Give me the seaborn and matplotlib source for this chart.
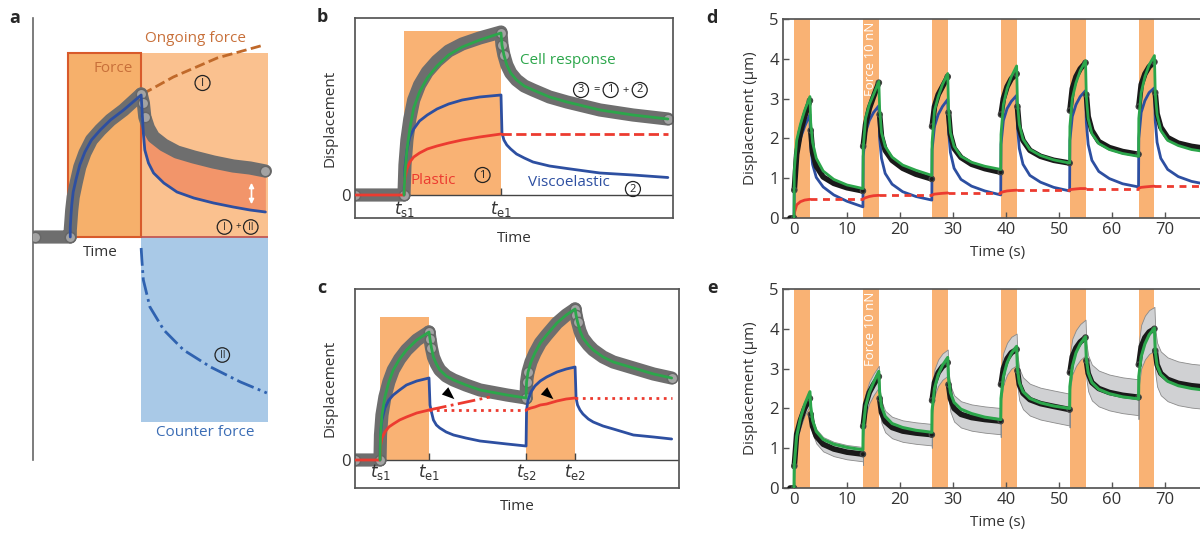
import numpy as np
import pandas as pd
import matplotlib
matplotlib.use("Agg")
import matplotlib.pyplot as plt
import seaborn as sns
from matplotlib.patches import Rectangle

sns.set_theme(style="white")
plt.rcParams["font.family"] = ["Open Sans", "DejaVu Sans"]
plt.rcParams["axes.edgecolor"] = "#555555"

GREEN = "#2ca64b"
BLUE = "#2d4fa1"
RED = "#ec3b30"
ORANGE = "#f9b274"
TXT = "#333333"

# ---------- panel a (schematic, arbitrary units) ----------
a_base_x = [-0.45, 0.03]
a_rise_x = [0.03, 0.03, 0.04, 0.05, 0.07, 0.11, 0.16, 0.23, 0.32, 0.44, 0.58, 0.76, 1.0]
a_data_rise = [0, 0.07, 0.17, 0.27, 0.40, 0.54, 0.70, 0.84, 0.97, 1.07, 1.17, 1.27, 1.43]
a_blue_rise = [0, 0.10, 0.22, 0.32, 0.45, 0.58, 0.72, 0.85, 0.97, 1.07, 1.17, 1.27, 1.42]
a_decay_x = [1.0, 1.03, 1.05, 1.10, 1.17, 1.31, 1.49, 1.72, 1.99, 2.26, 2.49, 2.70]
a_data_decay = [1.43, 1.34, 1.20, 1.09, 1.00, 0.92, 0.85, 0.80, 0.75, 0.71, 0.69, 0.66]
a_blue_decay = [1.42, 1.04, 0.87, 0.74, 0.64, 0.54, 0.45, 0.39, 0.34, 0.30, 0.27, 0.25]
a_ongoing_x = [1.02, 1.44, 2.04, 2.68]
a_ongoing_y = [1.43, 1.60, 1.79, 1.92]
a_counter_x = [1.0, 1.01, 1.03, 1.12, 1.31, 1.58, 1.95, 2.36, 2.72]
a_counter_y = [-0.11, -0.23, -0.43, -0.70, -0.93, -1.13, -1.30, -1.45, -1.56]

# ---------- panel b ----------
b_pre_x = [-0.5, 0.0]
b_rise_x = [0, 0.01, 0.03, 0.06, 0.1, 0.16, 0.24, 0.34, 0.46, 0.6, 0.78, 1.0]
b_green_rise = [0, 0.22, 0.45, 0.66, 0.87, 1.03, 1.17, 1.29, 1.40, 1.48, 1.55, 1.62]
b_data_rise = [0, 0.30, 0.55, 0.76, 0.95, 1.10, 1.23, 1.34, 1.44, 1.51, 1.57, 1.63]
b_blue_rise = [0, 0.28, 0.45, 0.58, 0.66, 0.74, 0.80, 0.86, 0.91, 0.95, 0.98, 1.0]
b_red_rise = [0, 0.17, 0.26, 0.33, 0.38, 0.42, 0.46, 0.49, 0.52, 0.55, 0.58, 0.61]
b_decay_x = [1.0, 1.01, 1.03, 1.06, 1.1, 1.16, 1.24, 1.33, 1.5, 1.68, 2.02, 2.36, 2.72]
b_green_decay = [1.62, 1.50, 1.40, 1.30, 1.22, 1.15, 1.09, 1.05, 0.98, 0.93, 0.85, 0.80, 0.76]
b_blue_decay = [1.0, 0.62, 0.55, 0.50, 0.46, 0.41, 0.37, 0.33, 0.29, 0.265, 0.22, 0.20, 0.175]
b_red_level = 0.61
b_ticks = [0, 1]
b_tick_labels = [r"$t_{\rm s1}$", r"$t_{\rm e1}$"]

# ---------- panel c ----------
c_rise1_x = [0, 0.01, 0.04, 0.1, 0.18, 0.27, 0.4, 0.54, 0.75, 1.0]
c_decay1_x = [1.0, 1.02, 1.05, 1.09, 1.15, 1.22, 1.35, 1.5, 1.75, 2.04, 2.59, 2.98]
c_rise2_x = [2.98, 2.99, 3.02, 3.08, 3.16, 3.27, 3.4, 3.61, 3.8, 3.98]
c_decay2_x = [3.98, 4.0, 4.03, 4.08, 4.14, 4.25, 4.35, 4.55, 4.76, 5.17, 5.58, 5.95]
c_green = [[0, 0.25, 0.45, 0.63, 0.78, 0.90, 1.01, 1.10, 1.20, 1.28],
           [1.28, 1.21, 1.12, 1.03, 0.96, 0.90, 0.84, 0.80, 0.75, 0.70, 0.65, 0.62],
           [0.62, 0.78, 0.88, 0.98, 1.07, 1.17, 1.25, 1.37, 1.45, 1.51],
           [1.51, 1.45, 1.38, 1.29, 1.22, 1.15, 1.10, 1.03, 0.98, 0.92, 0.86, 0.82]]
c_blue = [[0, 0.25, 0.40, 0.52, 0.60, 0.65, 0.70, 0.75, 0.79, 0.82],
          [0.82, 0.55, 0.48, 0.40, 0.35, 0.32, 0.28, 0.25, 0.22, 0.19, 0.16, 0.14],
          [0.14, 0.50, 0.60, 0.68, 0.74, 0.79, 0.83, 0.88, 0.91, 0.93],
          [0.93, 0.62, 0.55, 0.50, 0.46, 0.41, 0.38, 0.34, 0.31, 0.25, 0.23, 0.21]]
c_red_rise1 = [0, 0.14, 0.22, 0.28, 0.33, 0.36, 0.40, 0.43, 0.47, 0.50]
c_red_rise2 = [0.50, 0.50, 0.51, 0.52, 0.53, 0.55, 0.56, 0.59, 0.61, 0.62]
c_red_trend_x = [1.0, 2.24]
c_red_trend_y = [0.50, 0.63]
c_ticks = [0, 1, 2.98, 3.98]
c_tick_labels = [r"$t_{\rm s1}$", r"$t_{\rm e1}$", r"$t_{\rm s2}$", r"$t_{\rm e2}$"]

# ---------- panels d, e (measured, um vs s) ----------
pulse_start = [0, 13, 26, 39, 52, 65]
pulse_len = 3
rise_dt = [0, 0.05, 0.5, 1.2, 2.0, 3.0]
decay_dt = [0, 0.15, 0.5, 1.2, 2.5, 4.5, 7.0, 10.0]

d_green_rise = [[0.0, 1.2, 1.95, 2.35, 2.7, 3.05],
                [0.74, 1.75, 2.5, 2.85, 3.1, 3.43],
                [1.07, 1.9, 2.7, 3.05, 3.35, 3.63],
                [1.22, 2.1, 2.85, 3.25, 3.55, 3.82],
                [1.38, 2.3, 3.0, 3.4, 3.7, 3.95],
                [1.55, 2.5, 3.15, 3.55, 3.85, 4.08]]
d_green_decay = [[3.05, 2.4, 1.9, 1.5, 1.18, 0.97, 0.83, 0.74],
                 [3.43, 2.75, 2.15, 1.8, 1.53, 1.33, 1.2, 1.07],
                 [3.63, 2.75, 2.15, 1.8, 1.55, 1.4, 1.3, 1.22],
                 [3.82, 2.9, 2.35, 1.98, 1.72, 1.57, 1.46, 1.38],
                 [3.95, 3.05, 2.5, 2.12, 1.87, 1.72, 1.62, 1.55],
                 [4.08, 3.15, 2.6, 2.2, 1.95, 1.82, 1.72, 1.66]]
d_blue_rise = [[0.0, 0.9, 1.55, 2.0, 2.3, 2.6],
               [0.28, 1.55, 2.15, 2.45, 2.65, 2.82],
               [0.45, 1.72, 2.3, 2.6, 2.8, 2.98],
               [0.58, 1.85, 2.45, 2.75, 2.93, 3.08],
               [0.68, 1.95, 2.55, 2.85, 3.05, 3.2],
               [0.78, 2.0, 2.65, 2.95, 3.15, 3.27]]
d_blue_decay = [[2.6, 1.8, 1.35, 1.02, 0.78, 0.58, 0.42, 0.28],
                [2.82, 2.0, 1.5, 1.12, 0.85, 0.66, 0.54, 0.45],
                [2.98, 2.2, 1.65, 1.25, 0.97, 0.8, 0.68, 0.58],
                [3.08, 2.3, 1.75, 1.35, 1.07, 0.9, 0.77, 0.68],
                [3.2, 2.4, 1.85, 1.45, 1.17, 0.99, 0.86, 0.78],
                [3.27, 2.45, 1.9, 1.5, 1.22, 1.04, 0.92, 0.84]]
d_black_rise = [[0.0, 0.7, 1.6, 2.15, 2.55, 2.95],
                [0.68, 1.8, 2.35, 2.75, 3.05, 3.4],
                [0.98, 2.3, 2.8, 3.1, 3.3, 3.55],
                [1.15, 2.6, 3.0, 3.3, 3.5, 3.62],
                [1.38, 2.7, 3.25, 3.55, 3.75, 3.9],
                [1.6, 2.8, 3.35, 3.62, 3.8, 3.92]]
d_black_decay = [[2.95, 2.2, 1.65, 1.3, 1.03, 0.87, 0.76, 0.68],
                 [3.4, 2.6, 2.05, 1.7, 1.45, 1.25, 1.1, 0.98],
                 [3.55, 2.65, 2.1, 1.75, 1.52, 1.35, 1.24, 1.15],
                 [3.62, 2.8, 2.25, 1.95, 1.7, 1.55, 1.45, 1.38],
                 [3.9, 3.1, 2.55, 2.2, 1.92, 1.77, 1.67, 1.6],
                 [3.92, 3.15, 2.62, 2.28, 2.02, 1.88, 1.8, 1.74]]
d_red_rise = [[0.0, 0.12, 0.33, 0.41, 0.45, 0.47],
              [0.47, 0.48, 0.51, 0.54, 0.56, 0.57],
              [0.57, 0.58, 0.60, 0.61, 0.62, 0.63],
              [0.63, 0.64, 0.66, 0.68, 0.69, 0.70],
              [0.70, 0.71, 0.72, 0.73, 0.74, 0.74],
              [0.74, 0.75, 0.77, 0.78, 0.79, 0.80]]

e_green_rise = [[0.0, 0.6, 1.3, 1.75, 2.1, 2.42],
                [0.96, 1.5, 2.05, 2.4, 2.65, 2.93],
                [1.40, 1.95, 2.5, 2.85, 3.08, 3.28],
                [1.72, 2.25, 2.8, 3.15, 3.38, 3.56],
                [2.0, 2.55, 3.05, 3.4, 3.62, 3.8],
                [2.24, 2.8, 3.3, 3.62, 3.85, 4.02]]
e_green_decay = [[2.42, 2.05, 1.7, 1.42, 1.22, 1.1, 1.02, 0.96],
                 [2.93, 2.4, 2.05, 1.8, 1.62, 1.52, 1.45, 1.40],
                 [3.28, 2.75, 2.4, 2.15, 1.98, 1.87, 1.78, 1.72],
                 [3.56, 3.0, 2.65, 2.42, 2.25, 2.14, 2.06, 2.0],
                 [3.8, 3.25, 2.9, 2.65, 2.48, 2.37, 2.29, 2.24],
                 [4.02, 3.45, 3.08, 2.85, 2.68, 2.57, 2.5, 2.45]]
e_black_rise = [[0.0, 0.55, 1.35, 1.7, 2.0, 2.25],
                [0.85, 1.55, 2.1, 2.4, 2.6, 2.8],
                [1.34, 2.2, 2.65, 2.9, 3.05, 3.15],
                [1.68, 2.6, 3.0, 3.25, 3.4, 3.48],
                [1.97, 2.9, 3.3, 3.52, 3.67, 3.78],
                [2.28, 3.1, 3.55, 3.78, 3.92, 4.0]]
e_black_decay = [[2.25, 1.85, 1.55, 1.3, 1.1, 0.98, 0.9, 0.85],
                 [2.8, 2.25, 1.9, 1.67, 1.52, 1.43, 1.38, 1.34],
                 [3.15, 2.6, 2.25, 2.0, 1.85, 1.77, 1.72, 1.68],
                 [3.48, 2.95, 2.6, 2.38, 2.22, 2.12, 2.05, 1.97],
                 [3.78, 3.2, 2.88, 2.65, 2.5, 2.4, 2.33, 2.28],
                 [4.0, 3.45, 3.1, 2.88, 2.73, 2.63, 2.57, 2.53]]
e_sd = [0.18, 0.27, 0.33, 0.40, 0.45, 0.55]


def line(ax, x, y, **kw):
    sns.lineplot(x=list(x), y=list(y), ax=ax, estimator=None, sort=False, legend=False, **kw)


def data_band(ax, x, y, z=2):
    # measured points drawn as a dense band of grey circles
    line(ax, x, y, color="#6e6e6e", linewidth=9.5, solid_capstyle="round", zorder=z)
    sns.scatterplot(x=x[:3] + x[-1:], y=y[:3] + y[-1:], ax=ax, s=55, color="#a3a3a3",
                    edgecolor="#666666", linewidth=1, zorder=z, legend=False)


def circ(ax, x, y, s, color="#222222", fs=8):
    ax.text(x, y, s, fontsize=fs, color=color, ha="center", va="center",
            bbox=dict(boxstyle="circle,pad=0.18", fc="none", ec=color, lw=0.9))


def cycles(rise, decay):
    t, v = [], []
    for k, s in enumerate(pulse_start):
        t += [s + dt for dt in rise_dt] + [s + pulse_len + dt for dt in decay_dt]
        v += list(rise[k]) + list(decay[k])
    return t, v


def black_data(ax, rise, decay):
    # continuous trace, with the fast jumps shown only as sparse points
    line(ax, [-0.8, 0], [0, 0], color="#1a1a1a", linewidth=4, zorder=5)
    jx, jy = [], []
    for k, s in enumerate(pulse_start):
        rt = [s + dt for dt in rise_dt]
        dt_ = [s + pulse_len + dt for dt in decay_dt]
        line(ax, rt[1:], rise[k][1:], color="#1a1a1a", linewidth=4, zorder=5)
        line(ax, dt_[1:], decay[k][1:], color="#1a1a1a", linewidth=4, zorder=5)
        jx += [rt[0], rt[1], dt_[0], dt_[1]]
        jy += [rise[k][0], rise[k][1], decay[k][0], decay[k][1]]
    sns.scatterplot(x=jx, y=jy, ax=ax, s=14, facecolor="none", edgecolor="#444444",
                    linewidth=1, zorder=5, legend=False)


fig = plt.figure(figsize=(12, 5.34), dpi=100)
ax_a = fig.add_axes([33 / 1200, 74 / 534, 247 / 1200, 442 / 534])
ax_b = fig.add_axes([355 / 1200, 316 / 534, 318 / 1200, 200 / 534])
ax_c = fig.add_axes([355 / 1200, 46 / 534, 324 / 1200, 199 / 534])
ax_d = fig.add_axes([783 / 1200, 316 / 534, 430 / 1200, 199 / 534])
ax_e = fig.add_axes([783 / 1200, 46 / 534, 430 / 1200, 199 / 534])

# ===== a =====
ax = ax_a
ax.add_patch(Rectangle((1.0, 0), 1.73, 1.84, fc="#fac18f", ec="none", zorder=0))
ax.add_patch(Rectangle((0, 0), 1.0, 1.84, fc="#f6b06b", ec="#d85a2b", lw=1.5, zorder=1))
ax.add_patch(Rectangle((1.0, -1.85), 1.73, 1.85, fc="#a9c9e7", ec="none", zorder=0))
ax.hlines(0, 1.0, 2.73, color="#c0504d", lw=1.2, zorder=1)
ax.fill_between(a_decay_x, a_blue_decay, a_data_decay, color="#f2956a", lw=0, zorder=1)
line(ax, a_ongoing_x, a_ongoing_y, color="#c0692a", linewidth=2, linestyle="--", zorder=2)
line(ax, a_counter_x, a_counter_y, color="#2f62b0", linewidth=2, linestyle="-.", zorder=2)
data_band(ax, a_base_x + a_rise_x, [0, 0] + a_data_rise, z=3)
data_band(ax, a_decay_x, a_data_decay, z=3)
line(ax, a_rise_x + a_decay_x, a_blue_rise + a_blue_decay, color=BLUE, linewidth=2, zorder=4)
ax.annotate("", xy=(2.51, 0.30), xytext=(2.51, 0.57),
            arrowprops=dict(arrowstyle="<|-|>", color="white", lw=1.2, mutation_scale=7))
ax.text(0.62, 1.68, "Force", color="#c8703a", fontsize=11, ha="center", va="center")
ax.text(1.74, 1.98, "Ongoing force", color="#c8703a", fontsize=11, ha="center", va="center")
ax.text(0.44, -0.15, "Time", color=TXT, fontsize=11, ha="center", va="center")
ax.text(1.88, -1.96, "Counter force", color="#3b6db5", fontsize=11, ha="center", va="center")
circ(ax, 1.84, 1.54, "I")
circ(ax, 2.14, 0.10, "I", fs=7)
ax.text(2.33, 0.10, "+", fontsize=7, ha="center", va="center", color="#222222")
circ(ax, 2.50, 0.10, "II", fs=7)
circ(ax, 2.11, -1.18, "II", fs=7)
ax.set_xlim(-0.48, 2.9)
ax.set_ylim(-2.23, 2.19)
ax.set_xticks([])
ax.set_yticks([])
for s in ["top", "right", "bottom"]:
    ax.spines[s].set_visible(False)
ax.spines["left"].set_color("#666666")
ax.spines["left"].set_linewidth(1.2)

# ===== b =====
ax = ax_b
ax.add_patch(Rectangle((0, 0), 1.0, 1.64, fc=ORANGE, ec="none", zorder=0))
ax.axhline(0, color="#444444", lw=1, zorder=1)
ax.vlines(b_ticks, 0, 0.07, color="#444444", lw=1, zorder=1)
data_band(ax, b_pre_x + b_rise_x, [0, 0] + b_data_rise)
data_band(ax, b_decay_x, b_green_decay)
line(ax, b_rise_x + b_decay_x, b_blue_rise + b_blue_decay, color=BLUE, linewidth=2, zorder=4)
line(ax, b_pre_x + b_rise_x, [0, 0] + b_red_rise, color=RED, linewidth=2, zorder=4)
line(ax, [1.0, 2.72], [b_red_level, b_red_level], color=RED, linewidth=2, linestyle="--", zorder=4)
line(ax, b_rise_x + b_decay_x, b_green_rise + b_green_decay, color=GREEN, linewidth=2, zorder=5)
for p, lab in zip(b_ticks, b_tick_labels):
    ax.text(p, -0.14, lab, fontsize=12, ha="center", va="center", color=TXT)
ax.text(1.69, 1.35, "Cell response", color=GREEN, fontsize=11, ha="center", va="center")
circ(ax, 1.825, 1.05, "3")
ax.text(1.98, 1.05, "=", fontsize=8, ha="center", va="center")
circ(ax, 2.13, 1.05, "1")
ax.text(2.28, 1.05, "+", fontsize=8, ha="center", va="center")
circ(ax, 2.43, 1.05, "2")
ax.text(0.30, 0.15, "Plastic", color=RED, fontsize=11, ha="center", va="center")
circ(ax, 0.81, 0.20, "1")
ax.text(1.70, 0.12, "Viscoelastic", color=BLUE, fontsize=11, ha="center", va="center")
circ(ax, 2.36, 0.06, "2")
ax.set_xlim(-0.505, 2.773)
ax.set_ylim(-0.23, 1.77)
ax.set_xticks([])
ax.set_yticks([0])
ax.set_yticklabels(["0"])
ax.tick_params(axis="y", length=0, labelsize=12, pad=3, labelcolor=TXT)
ax.set_ylabel("Displacement", fontsize=11, color=TXT, labelpad=3)
ax.set_xlabel("Time", fontsize=11, color=TXT, labelpad=9)

# ===== c =====
ax = ax_c
for p in [0, 2.98]:
    ax.add_patch(Rectangle((p, 0), 1.0, 1.43, fc=ORANGE, ec="none", zorder=0))
ax.axhline(0, color="#444444", lw=1, zorder=1)
ax.vlines(c_ticks, 0, 0.07, color="#444444", lw=1, zorder=1)
c_x = [c_rise1_x, c_decay1_x, c_rise2_x, c_decay2_x]
data_band(ax, [-0.5, 0] + c_rise1_x, [0, 0] + c_green[0])
data_band(ax, c_decay1_x, c_green[1])
data_band(ax, c_rise2_x, c_green[2])
data_band(ax, c_decay2_x, c_green[3])
line(ax, sum(c_x, []), sum(c_blue, []), color=BLUE, linewidth=2, zorder=4)
line(ax, [-0.5, 0] + c_rise1_x, [0, 0] + c_red_rise1, color=RED, linewidth=2, zorder=4)
line(ax, [1.0, 2.98], [0.50, 0.50], color=RED, linewidth=2, linestyle=":", zorder=4)
line(ax, c_rise2_x, c_red_rise2, color=RED, linewidth=2, zorder=4)
line(ax, [3.98, 5.95], [0.62, 0.62], color=RED, linewidth=2, linestyle=":", zorder=4)
line(ax, c_red_trend_x, c_red_trend_y, color=RED, linewidth=2, linestyle="-.", zorder=4)
line(ax, sum(c_x, []), sum(c_green, []), color=GREEN, linewidth=2, zorder=5)
for tip, tail in [((1.56, 0.59), (1.33, 0.69)), ((3.58, 0.59), (3.35, 0.69))]:
    ax.annotate("", xy=tip, xytext=tail,
                arrowprops=dict(arrowstyle="-|>,head_length=0.9,head_width=0.35", color="black",
                                lw=0, mutation_scale=10), zorder=6)
for p, lab in zip(c_ticks, c_tick_labels):
    ax.text(p, -0.12, lab, fontsize=12, ha="center", va="center", color=TXT)
ax.set_xlim(-0.51, 6.1)
ax.set_ylim(-0.28, 1.71)
ax.set_xticks([])
ax.set_yticks([0])
ax.set_yticklabels(["0"])
ax.tick_params(axis="y", length=0, labelsize=12, pad=3, labelcolor=TXT)
ax.set_ylabel("Displacement", fontsize=11, color=TXT, labelpad=3)
ax.set_xlabel("Time", fontsize=11, color=TXT, labelpad=8)


# ===== d, e =====
def time_axes(ax):
    for s in pulse_start:
        ax.axvspan(s, s + pulse_len, color=ORANGE, lw=0, zorder=0)
    ax.text(pulse_start[1] + 1.5, 4.92, "Force 10 nN", rotation=90, color="white",
            fontsize=9.5, ha="center", va="top", zorder=1)
    ax.set_xlim(-2.08, 79.05)
    ax.set_ylim(0, 5)
    ax.set_xticks([0, 10, 20, 30, 40, 50, 60, 70])
    ax.set_yticks([0, 1, 2, 3, 4, 5])
    ax.tick_params(direction="in", length=4, width=1, color="#555555", labelsize=12,
                   labelcolor=TXT, pad=3, bottom=True, left=True)
    ax.set_xlabel("Time (s)", fontsize=11, color=TXT, labelpad=5)
    ax.set_ylabel("Displacement (\u03bcm)", fontsize=11, color=TXT, labelpad=8)


ax = ax_d
time_axes(ax)
t, v = cycles(d_blue_rise, d_blue_decay)
line(ax, t, v, color=BLUE, linewidth=2, zorder=3)
for k, s in enumerate(pulse_start):
    line(ax, [s + dt for dt in rise_dt], d_red_rise[k], color=RED, linewidth=2, zorder=4)
    nxt = pulse_start[k + 1] if k + 1 < len(pulse_start) else 79
    line(ax, [s + pulse_len, nxt], [d_red_rise[k][-1]] * 2, color=RED, linewidth=2,
         linestyle=(0, (2.5, 2)), zorder=4)
black_data(ax, d_black_rise, d_black_decay)
t, v = cycles(d_green_rise, d_green_decay)
line(ax, t, v, color=GREEN, linewidth=2, zorder=6)

ax = ax_e
time_axes(ax)
t, v = cycles(e_black_rise, e_black_decay)
n = len(rise_dt) + len(decay_dt)
for k in range(len(pulse_start)):
    seg_t = t[k * n:(k + 1) * n]
    seg_v = np.array(v[k * n:(k + 1) * n])
    lo = seg_v - e_sd[k]
    hi = seg_v + e_sd[k]
    if k == 0:
        lo[0], hi[0] = 0, 0
    ax.fill_between(seg_t, lo, hi, color="#d0d1d3", edgecolor="#8a8a8a", lw=0.6, zorder=2)
black_data(ax, e_black_rise, e_black_decay)
t, v = cycles(e_green_rise, e_green_decay)
line(ax, t, v, color=GREEN, linewidth=2.2, zorder=6)

# panel letters
for lab, (px, py) in zip("abcde", [(15, 18), (322, 17), (322, 288), (712, 18), (712, 288)]):
    fig.text(px / 1200, 1 - py / 534, lab, fontsize=13, fontweight="bold", ha="center", va="center")

fig.savefig("out.png", dpi=100)
